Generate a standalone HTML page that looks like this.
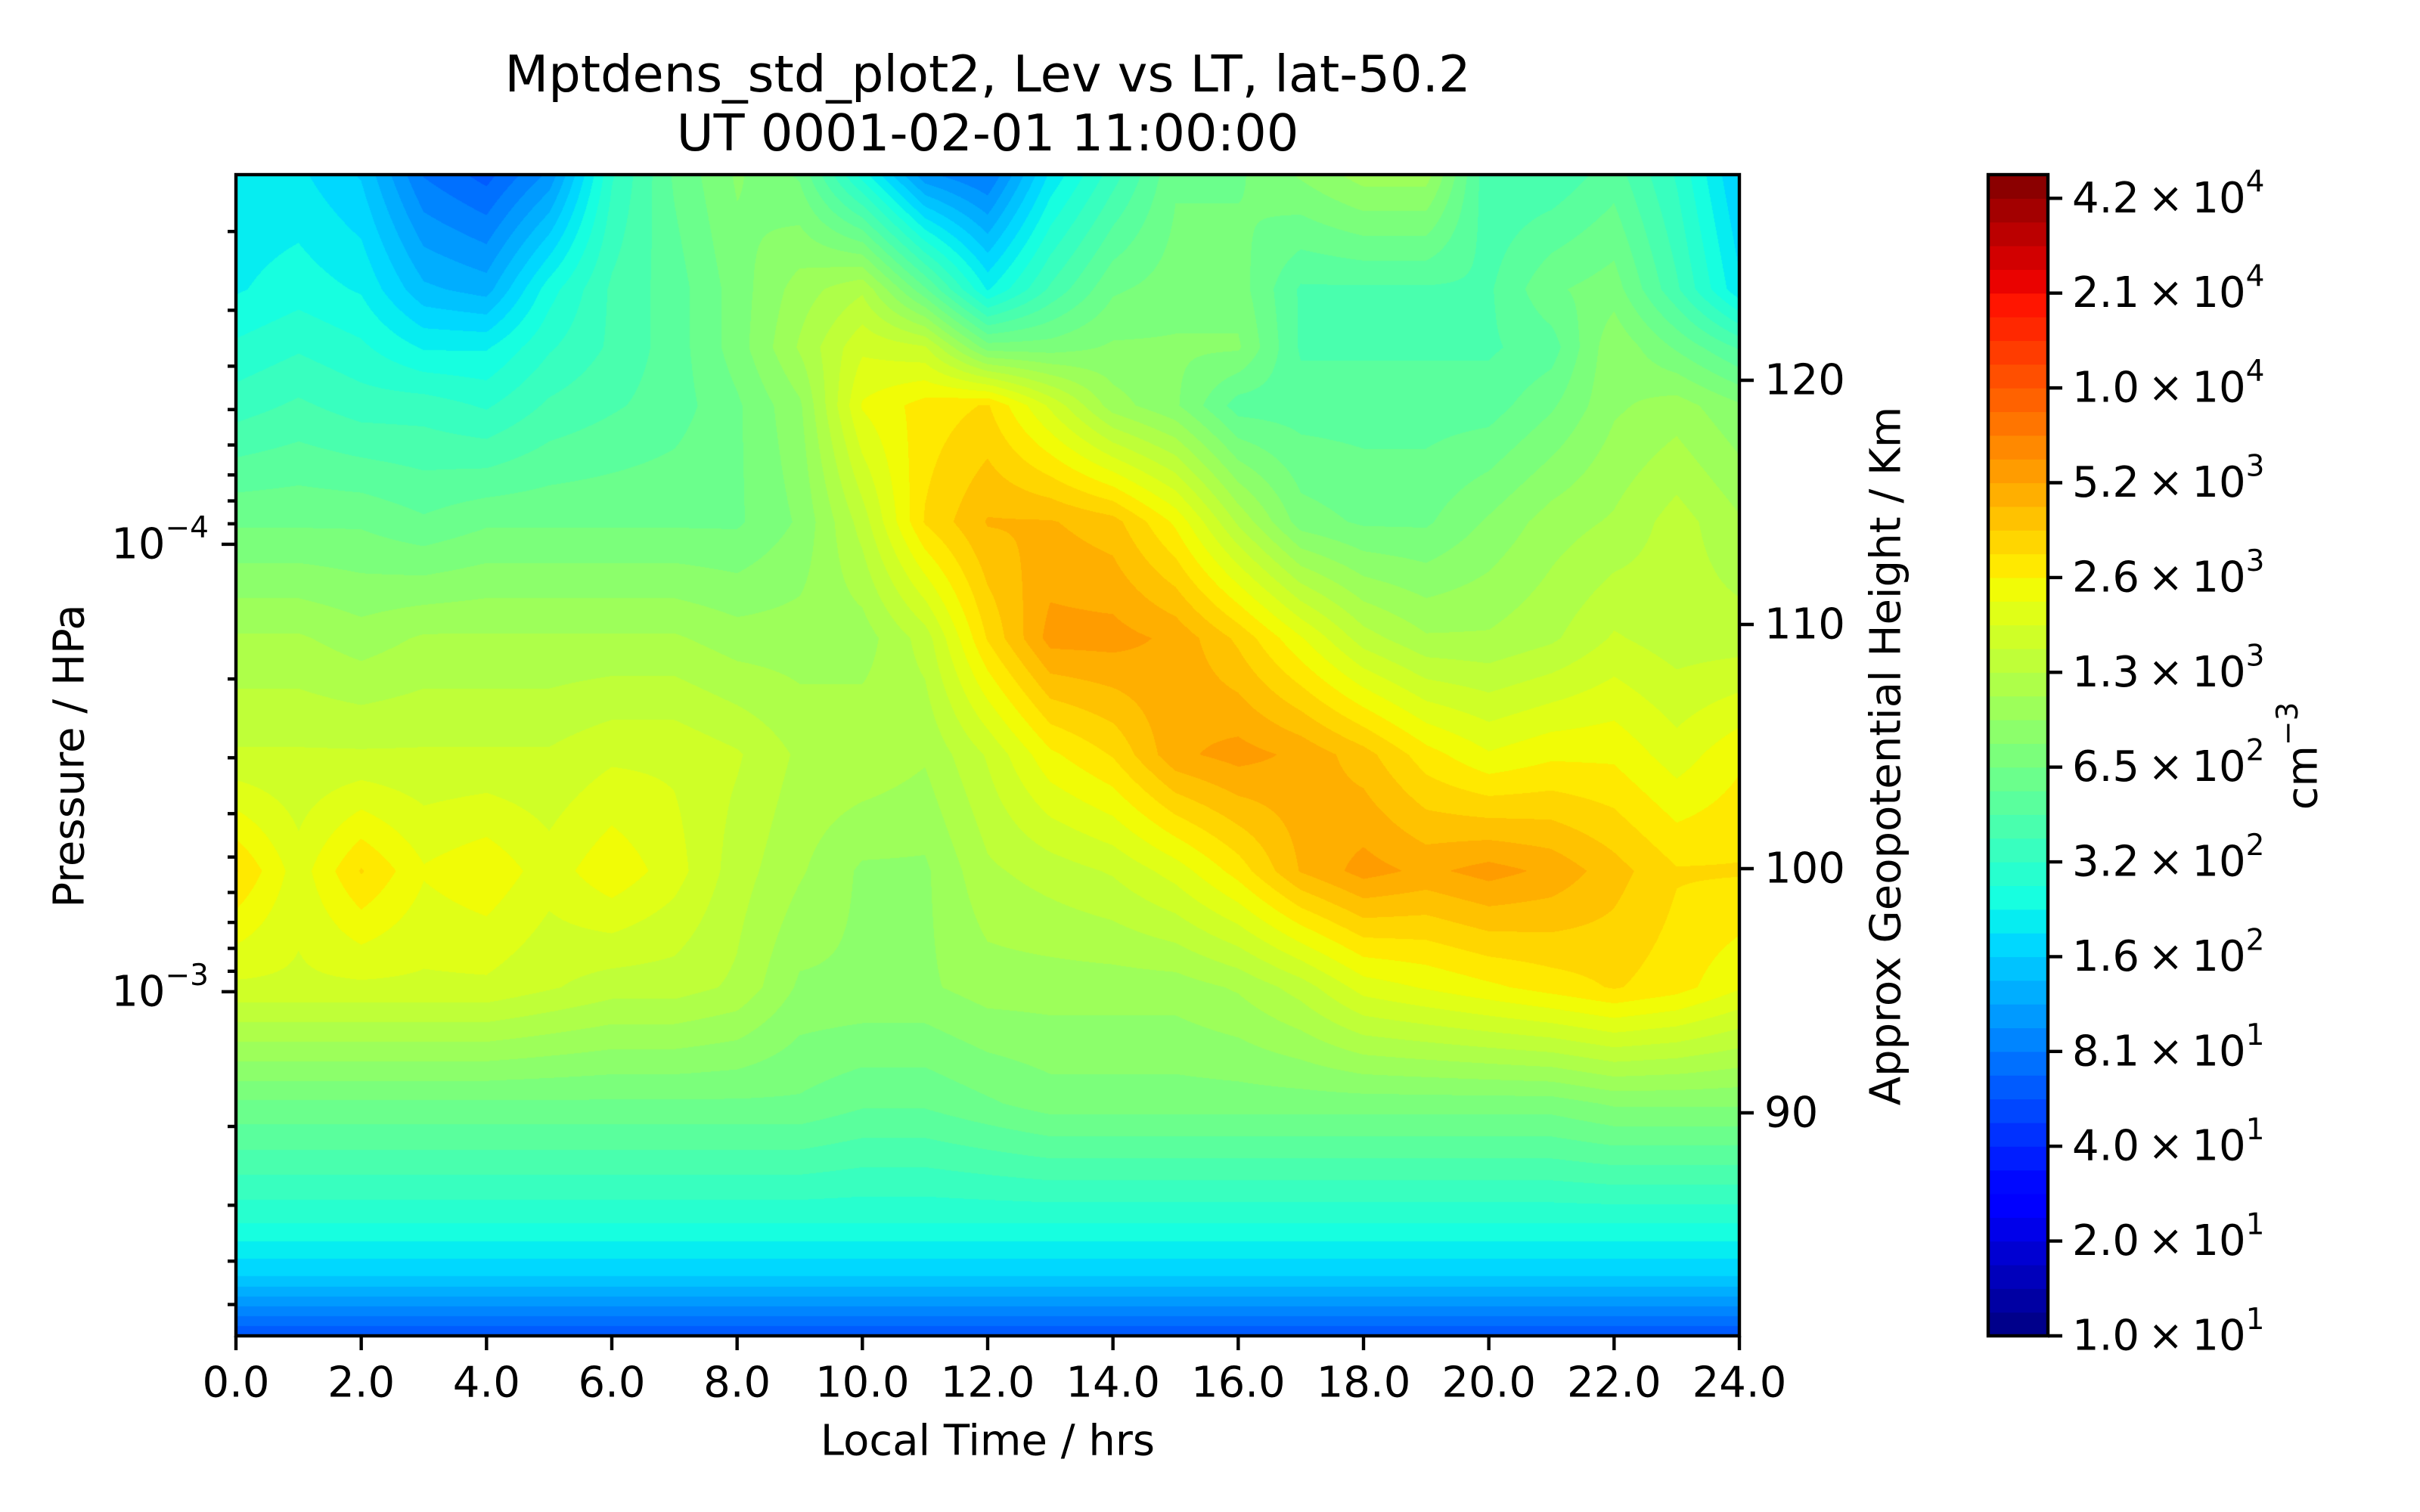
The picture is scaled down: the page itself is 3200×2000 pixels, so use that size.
<!DOCTYPE html>
<html><head><meta charset="utf-8">
<style>
html,body{margin:0;padding:0;background:#fff;}
#wrap{position:relative;width:3200px;height:2000px;overflow:hidden;}
#field{position:absolute;left:312px;top:231px;}
svg{position:absolute;left:0;top:0;}
text{font-family:"DejaVu Sans","Liberation Sans",sans-serif;fill:#000;}
</style></head>
<body>
<div id="wrap">
<canvas id="field" width="1988" height="1536"></canvas>
<svg id="svg" width="3200" height="2000"></svg>
</div>
<script>
// ---- data (log10 density) ----
const ltValues = [0,1,2,3,4,5,6,7,8,9,10,11,12,13,14,15,16,17,18,19,20,21,22,23,24];
const logpRows = [-4.826,-4.57,-4.44,-4.31,-4.05,-3.79,-3.53,-3.27,-3.01,-2.75,-2.49,-2.36,-2.23];
const row0  = [2.3,2.3,2.2,1.9,1.8,2.0,2.5,2.75,2.9,2.8,2.4,2.0,1.9,2.3,2.55,2.8,2.8,2.9,3.0,3.0,2.6,2.6,2.7,2.5,2.2];
const row1  = [2.35,2.4,2.35,2.15,2.1,2.4,2.6,2.7,2.85,3.0,3.1,2.75,2.35,2.6,2.8,2.85,2.85,2.65,2.65,2.65,2.65,2.8,2.85,2.6,2.3];
const row2  = [2.45,2.5,2.45,2.35,2.35,2.5,2.6,2.7,2.85,3.05,3.25,3.2,2.85,2.85,2.9,2.9,2.9,2.65,2.65,2.65,2.65,2.7,2.95,2.8,2.65];
const row3  = [2.55,2.6,2.55,2.55,2.5,2.6,2.65,2.7,2.8,2.95,3.35,3.45,3.5,3.25,3.0,2.9,2.7,2.7,2.7,2.7,2.7,2.8,2.95,3.0,2.9];
const row4  = [2.8,2.8,2.8,2.75,2.8,2.8,2.8,2.8,2.8,2.9,3.15,3.5,3.65,3.65,3.6,3.4,3.1,2.85,2.8,2.8,2.9,3.0,3.05,3.15,3.05];
const row5  = [3.05,3.05,3.0,3.05,3.05,3.05,3.05,3.05,3.0,3.0,3.0,3.15,3.5,3.75,3.75,3.7,3.55,3.35,3.15,3.05,3.05,3.1,3.2,3.15,3.15];
const row6  = [3.2,3.2,3.2,3.2,3.2,3.2,3.25,3.25,3.2,3.1,3.1,3.05,3.2,3.4,3.5,3.7,3.75,3.7,3.6,3.45,3.35,3.4,3.4,3.3,3.4];
const row7  = [3.5,3.3,3.5,3.35,3.4,3.3,3.4,3.3,3.15,3.05,2.95,2.95,3.1,3.15,3.2,3.3,3.45,3.65,3.75,3.7,3.75,3.7,3.6,3.5,3.5];
const row8  = [3.25,3.25,3.25,3.25,3.25,3.2,3.15,3.15,3.1,2.95,2.95,2.95,3.0,3.0,3.0,3.0,3.05,3.15,3.3,3.35,3.4,3.45,3.5,3.45,3.35];
const row9  = [2.8,2.8,2.8,2.8,2.8,2.8,2.8,2.8,2.8,2.8,2.75,2.75,2.8,2.85,2.85,2.85,2.85,2.85,2.85,2.85,2.85,2.85,2.9,2.9,2.9];
const row10 = [2.45,2.45,2.45,2.45,2.45,2.45,2.45,2.45,2.45,2.45,2.45,2.45,2.45,2.45,2.45,2.45,2.45,2.45,2.45,2.45,2.45,2.45,2.45,2.45,2.45];
const row11 = [2.2,2.2,2.2,2.2,2.2,2.2,2.2,2.2,2.2,2.2,2.2,2.2,2.2,2.2,2.2,2.2,2.2,2.2,2.2,2.2,2.2,2.2,2.2,2.2,2.2];
const row12 = [1.75,1.75,1.75,1.75,1.75,1.75,1.75,1.75,1.75,1.75,1.75,1.75,1.75,1.75,1.75,1.75,1.75,1.75,1.75,1.75,1.75,1.75,1.75,1.75,1.75];
const grid = [row0,row1,row2,row3,row4,row5,row6,row7,row8,row9,row10,row11,row12];
const xTicks = [0,2,4,6,8,10,12,14,16,18,20,22,24];
const xTickLabels = ["0.0","2.0","4.0","6.0","8.0","10.0","12.0","14.0","16.0","18.0","20.0","22.0","24.0"];
const heightTicks = [120,110,100,90];
const cbMant = ["1.0","2.0","4.0","8.1","1.6","3.2","6.5","1.3","2.6","5.2","1.0","2.1","4.2"];
const cbExp  = ["1","1","1","1","2","2","2","3","3","3","4","4","4"];

// ---- geometry ----
const PL=312, PR=2300, PT=231, PB=1767;
const LOGP_TOP=-4.826, LOGP_BOT=-2.231;
const xs = lt => PL + (lt/24)*(PR-PL);
const ys = lp => PT + (lp-LOGP_TOP)/(LOGP_BOT-LOGP_TOP)*(PB-PT);
const hs = h => 1149 - (h-100)*32.3;
const LMIN=1.0, DL=Math.log10(2.005)/4, NB=49;

function jet(t){
  function seg(pts){for(let i=1;i<pts.length;i++){if(t<=pts[i][0]){const a=pts[i-1],b=pts[i];return a[1]+(b[1]-a[1])*(t-a[0])/(b[0]-a[0]);}}return pts[pts.length-1][1];}
  return [seg([[0,0],[0.35,0],[0.66,1],[0.89,1],[1,0.5]]),seg([[0,0],[0.125,0],[0.375,1],[0.64,1],[0.91,0],[1,0]]),seg([[0,0.5],[0.11,1],[0.34,1],[0.65,0],[1,0]])].map(v=>Math.round(Math.max(0,Math.min(1,v))*255));
}
const bandColors=[];for(let k=0;k<NB;k++)bandColors.push(jet((k+0.5)/NB));

// ---- field ----
(function(){
  const c=document.getElementById('field'),ctx=c.getContext('2d');
  const W=c.width,H=c.height,img=ctx.createImageData(W,H),d=img.data;
  const nr=logpRows.length;
  for(let py=0;py<H;py++){
    const lp=LOGP_TOP+(py+0.5)/H*(LOGP_BOT-LOGP_TOP);
    let r=0;while(r<nr-2&&lp>logpRows[r+1])r++;
    let fy=(lp-logpRows[r])/(logpRows[r+1]-logpRows[r]);fy=Math.max(0,Math.min(1,fy));
    for(let px=0;px<W;px++){
      const lt=(px+0.5)/W*24;
      let ci=Math.min(23,Math.floor(lt));const fx=lt-ci;
      const a=grid[r][ci]*(1-fx)+grid[r][ci+1]*fx;
      const b=grid[r+1][ci]*(1-fx)+grid[r+1][ci+1]*fx;
      const v=a*(1-fy)+b*fy;
      let k=Math.floor((v-LMIN)/DL);k=Math.max(0,Math.min(NB-1,k));
      const col=bandColors[k],o=(py*W+px)*4;
      d[o]=col[0];d[o+1]=col[1];d[o+2]=col[2];d[o+3]=255;
    }
  }
  ctx.putImageData(img,0,0);
})();

// ---- axes ----
const svg=document.getElementById('svg');const NS='http://www.w3.org/2000/svg';
function mk(tag,attrs,parent){const e=document.createElementNS(NS,tag);for(const k in attrs)e.setAttribute(k,attrs[k]);(parent||svg).appendChild(e);return e;}
function line(x1,y1,x2,y2,name){const e=mk('line',{x1,y1,x2,y2,stroke:'#000','stroke-width':4.4});

return e;}
function txt(x,y,s,size,anchor,name,extra){const e=mk('text',Object.assign({x,y,'font-size':size,'text-anchor':anchor,'dominant-baseline':'central'},extra||{}));e.textContent=s;

return e;}

const fr=mk('rect',{x:PL,y:PT,width:PR-PL,height:PB-PT,fill:'none',stroke:'#000','stroke-width':4.4});



xTicks.forEach((v,i)=>{const x=xs(v);line(x,PB,x,PB+19,'x-tick');txt(x,1829,xTickLabels[i],56,'middle','x-tick-label');});
for(let e=-5;e<=-3;e++){for(let m=1;m<=9;m++){const lp=e+Math.log10(m);if(lp<LOGP_TOP||lp>LOGP_BOT)continue;const y=ys(lp);
 if(m===1){line(PL-19,y,PL,y,'y-major-tick');const t=txt(PL-36,y,'',56,'end','y-tick-label');t.textContent='10';const s=mk('tspan',{dy:-22,'font-size':39},t);s.textContent='\u2212'+(-e);}
 else line(PL-11,y,PL,y,'y-minor-tick');}}
heightTicks.forEach(h=>{const y=hs(h);line(PR,y,PR+19,y,'height-tick');txt(PR+33,y,String(h),56,'start','height-tick-label');});

txt(1306,98,'Mptdens_std_plot2, Lev vs LT, lat-50.2',67,'middle','chart-title');
txt(1306,176,'UT 0001-02-01 11:00:00',67,'middle','chart-subtitle');
txt(1306,1906,'Local Time / hrs',56,'middle','x-axis-title');
txt(92,1000,'Pressure / HPa',56,'middle','y-axis-title',{transform:'rotate(-90 92 1000)'});
txt(2494,1000,'Approx Geopotential Height / Km',56,'middle','height-axis-title',{transform:'rotate(-90 2494 1000)'});

const CBL=2629,CBR=2708,bh=(PB-PT)/NB;
for(let k=0;k<NB;k++){const c=bandColors[k];const r=mk('rect',{x:CBL,y:PB-(k+1)*bh,width:CBR-CBL,height:bh+0.6,fill:`rgb(${c[0]},${c[1]},${c[2]})`});

}
const cbf=mk('rect',{x:CBL,y:PT,width:CBR-CBL,height:PB-PT,fill:'none',stroke:'#000','stroke-width':4.4});


cbMant.forEach((m,i)=>{const y=PB-i*4*bh;line(CBR,y,CBR+19,y,'colorbar-tick');
 const t=txt(CBR+32,y,'',56,'start','colorbar-tick-label');t.textContent=m+'\u2009\u00d7\u200910';const s=mk('tspan',{dy:-22,'font-size':39},t);s.textContent=cbExp[i];});
const cl=txt(3045,1000,'',56,'middle','colorbar-label',{transform:'rotate(-90 3045 1000)'});cl.textContent='cm';const cs=mk('tspan',{dy:-20,'font-size':39},cl);cs.textContent='\u22123';
</script>
</body></html>
